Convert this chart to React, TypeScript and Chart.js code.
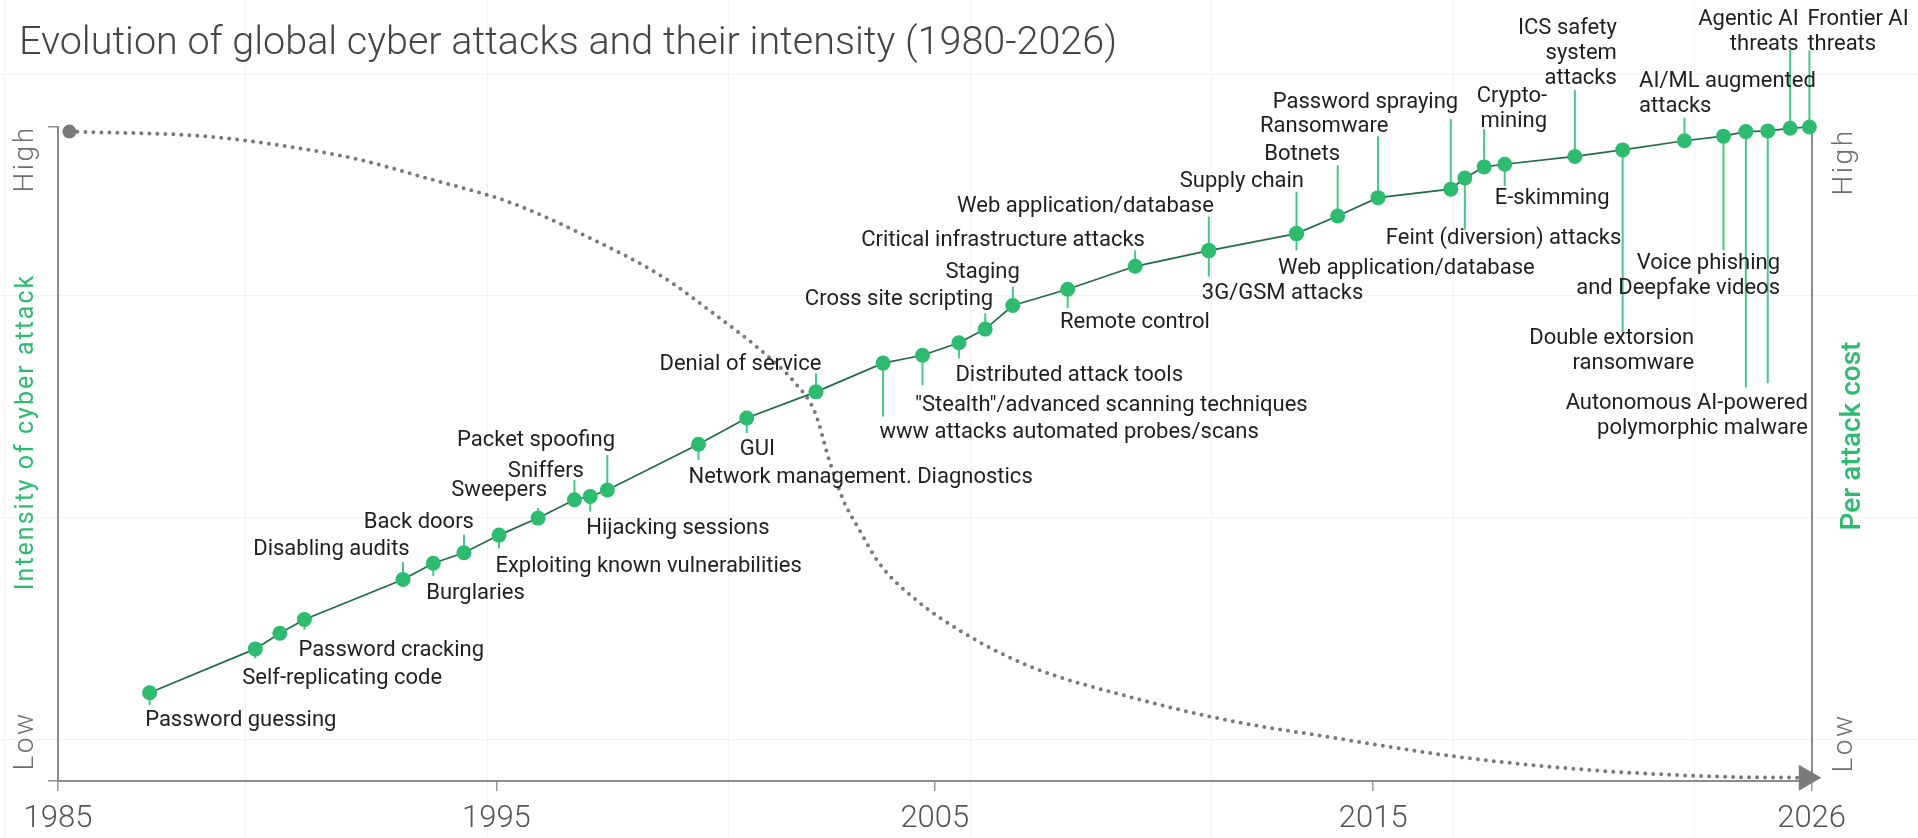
import React, { useEffect, useRef } from "react";
import { Chart, registerables } from "chart.js";

Chart.register(...registerables);

const chartTitle = "Evolution of global cyber attacks and their intensity (1980-2026)";
const xTickYears = [1985, 1995, 2005, 2015, 2025];
const xTickLabels = ["1985", "1995", "2005", "2015", "2026"];
const leftAxisTitle = "Intensity of cyber attack";
const rightAxisTitle = "Per attack cost";
const levelLabels = ["High", "Low"];

// Attack milestones (one entry per annotation; shared dots repeat their position)
const eventLabels = [
  "Password guessing",
  "Self-replicating code",
  "",
  "Password cracking",
  "Disabling audits",
  "Burglaries",
  "Back doors",
  "Exploiting known vulnerabilities",
  "Sweepers",
  "Sniffers",
  "Hijacking sessions",
  "Packet spoofing",
  "Network management. Diagnostics",
  "GUI",
  "Denial of service",
  "www attacks automated probes/scans",
  "\"Stealth\"/advanced scanning techniques",
  "Distributed attack tools",
  "Cross site scripting",
  "Staging",
  "Remote control",
  "Critical infrastructure attacks",
  "Web application/database",
  "3G/GSM attacks",
  "Supply chain",
  "Web application/database",
  "Botnets",
  "Ransomware",
  "Password spraying",
  "Feint (diversion) attacks",
  "Crypto-\nmining",
  "E-skimming",
  "ICS safety\nsystem\nattacks",
  "Double extorsion\nransomware",
  "AI/ML augmented\nattacks",
  "Voice phishing\nand Deepfake videos",
  "Autonomous AI-powered\npolymorphic malware",
  "",
  "Agentic AI\nthreats",
  "Frontier AI\nthreats",
];

const eventYears = [
  1987.09, 1989.5, 1990.06, 1990.62, 1992.87, 1993.56, 1994.26, 1995.06, 1995.95, 1996.78,
  1997.14, 1997.53, 1999.61, 2000.71, 2002.29, 2003.82, 2004.72, 2005.55, 2006.15, 2006.78,
  2008.03, 2009.57, 2011.25, 2011.25, 2013.25, 2013.25, 2014.19, 2015.11, 2016.77, 2017.09,
  2017.53, 2018.0, 2019.6, 2020.69, 2022.1, 2022.99, 2023.5, 2024.0, 2024.51, 2024.95,
];

const eventIntensity = [
  13.5, 20.2, 22.6, 24.7, 30.8, 33.3, 34.9, 37.6, 40.2, 43.0,
  43.5, 44.5, 51.5, 55.5, 59.5, 63.9, 65.1, 67.0, 69.1, 72.7,
  75.2, 78.7, 81.1, 81.1, 83.7, 83.7, 86.4, 89.2, 90.5, 92.2,
  93.9, 94.3, 95.5, 96.5, 97.9, 98.6, 99.3, 99.4, 99.8, 100,
];

// Falling cost of a single attack
const costYears = [
  1985.26, 1988.32, 1990.07, 1991.81, 1993.56, 1995.3, 1997.05, 1998.79, 1999.95, 2001.11,
  2001.82, 2002.27, 2002.59, 2002.91, 2003.28, 2003.73, 2004.48, 2005.67, 2007.18, 2009.42,
  2011.67, 2013.92, 2016.92, 2019.9, 2022.91, 2024.88,
];
const costLevel = [
  99.3, 98.6, 97.2, 95.1, 91.9, 88.5, 83.3, 77.1, 71.5, 65.4,
  60.8, 56.3, 49.1, 43.0, 38.4, 33.3, 28.2, 22.6, 17.5, 12.9,
  9.3, 6.8, 3.7, 1.7, 0.66, 0.5,
];

// Callout placement: [stem length px (+ down), first text line offset px, x offset px, alignment]
const labelPlacement: [number, number, number, CanvasTextAlign][] = [
  [12.3, 25.3, -4.5, "left"],
  [9.3, 27.7, -13, "left"],
  [0, 0, 0, "left"],
  [10.3, 28.6, -6, "left"],
  [-17.6, -32.6, 6.7, "right"],
  [12.7, 28.4, -7, "left"],
  [-18, -32.3, 10, "right"],
  [13.3, 29, -3.6, "left"],
  [-10, -30, 9, "right"],
  [-20, -30.7, 9.5, "right"],
  [15, 29.3, -4, "left"],
  [-35, -51.7, 7.7, "right"],
  [15.7, 30.7, -10, "left"],
  [15, 28.7, -7, "left"],
  [-18.4, -29.4, 5.4, "right"],
  [53.4, 66.7, -3.6, "left"],
  [30, 47.7, -7.6, "left"],
  [15.6, 30.6, -3.5, "left"],
  [-15.7, -32.3, 8, "right"],
  [-19, -35.7, 7, "right"],
  [19, 31.4, -7.6, "left"],
  [-16, -27.7, 9.8, "right"],
  [-34, -46, 5, "right"],
  [26, 40.7, -7, "left"],
  [-41.6, -54, 7.5, "right"],
  [16.7, 32.7, -18.5, "left"],
  [-50.7, -64, 2.4, "right"],
  [-61.3, -73.3, 10.3, "right"],
  [-70.2, -88.5, 7.4, "right"],
  [51.7, 58.4, -79, "left"],
  [-37.7, -72.7, 63, "right"],
  [21.5, 31.5, -10, "left"],
  [-66.3, -130.3, 42, "right"],
  [182.5, 186.2, 71.6, "right"],
  [-23, -62, -45.4, "left"],
  [114.2, 125.2, 56.5, "right"],
  [256, 269.7, 62, "right"],
  [252.3, 0, 0, "left"],
  [-78.3, -111.6, 8.5, "right"],
  [-76.8, -110.1, -2, "left"],
];

const FONT = "Roboto, 'Noto Sans', Arial, sans-serif";
const GREEN = "#2dbb6f";
const STEM_GREEN = "#45c786";
const LINE_GREEN = "#1f6d47";
const GREY = "#7a7a7a";
const AXIS_GREY = "#8c8c8c";

const W = 1918;
const H = 838;
const AREA = { left: 58, right: 1811.6, top: 127, bottom: 781 };

function rotatedText(
  ctx: CanvasRenderingContext2D,
  text: string,
  x: number,
  y: number,
  font: string,
  color: string,
  spacing: string
) {
  ctx.save();
  ctx.translate(x, y);
  ctx.rotate(-Math.PI / 2);
  ctx.font = font;
  ctx.fillStyle = color;
  ctx.textAlign = "center";
  ctx.textBaseline = "alphabetic";
  (ctx as any).letterSpacing = spacing;
  ctx.fillText(text, 0, 0);
  ctx.restore();
}

const decorPlugin = {
  id: "timelineDecor",
  beforeDraw(chart: any) {
    const { ctx, width, height } = chart;
    ctx.save();
    ctx.fillStyle = "#ffffff";
    ctx.fillRect(0, 0, width, height);
    ctx.strokeStyle = "#f3f3f3";
    ctx.lineWidth = 1;
    ctx.beginPath();
    for (let x = 3.5; x < width; x += 241.5) {
      const px = Math.round(x) + 0.5;
      ctx.moveTo(px, 0);
      ctx.lineTo(px, height);
    }
    for (let y = 73.5; y < height; y += 221.7) {
      const py = Math.round(y) + 0.5;
      ctx.moveTo(0, py);
      ctx.lineTo(width, py);
    }
    ctx.stroke();
    ctx.restore();
  },
  beforeDatasetsDraw(chart: any) {
    const { ctx } = chart;
    const meta = chart.getDatasetMeta(0);
    ctx.save();
    ctx.strokeStyle = STEM_GREEN;
    ctx.lineWidth = 2;
    meta.data.forEach((pt: any, i: number) => {
      const stem = labelPlacement[i][0];
      if (!stem) return;
      ctx.beginPath();
      ctx.moveTo(pt.x, pt.y);
      ctx.lineTo(pt.x, pt.y + stem);
      ctx.stroke();
    });
    ctx.restore();
  },
  afterDatasetsDraw(chart: any) {
    const { ctx } = chart;
    const meta = chart.getDatasetMeta(0);
    ctx.save();
    ctx.font = `400 22px ${FONT}`;
    ctx.fillStyle = "#1f1f1f";
    ctx.textBaseline = "alphabetic";
    meta.data.forEach((pt: any, i: number) => {
      const text = eventLabels[i];
      if (!text) return;
      const [, dy, dx, align] = labelPlacement[i];
      ctx.textAlign = align;
      text.split("\n").forEach((line, j) => {
        ctx.fillText(line, pt.x + dx, pt.y + dy + j * 25 + 7.8);
      });
    });
    ctx.restore();
  },
  afterDraw(chart: any) {
    const { ctx } = chart;
    const yHigh = chart.scales.y.getPixelForValue(100) + 32;
    const yLow = chart.scales.y.getPixelForValue(0) - 40;
    const yMid = (chart.chartArea.top + chart.chartArea.bottom) / 2;
    const light = `300 28px ${FONT}`;
    rotatedText(ctx, levelLabels[0], 33, yHigh, light, "#6e6e6e", "2.5px");
    rotatedText(ctx, levelLabels[1], 33, yLow, light, "#6e6e6e", "2.5px");
    rotatedText(ctx, leftAxisTitle, 33, yMid - 22, `400 25px ${FONT}`, GREEN, "2px");
    rotatedText(ctx, levelLabels[0], 1852, yHigh + 3, light, "#6e6e6e", "2.5px");
    rotatedText(ctx, levelLabels[1], 1852, yLow + 2, light, "#6e6e6e", "2.5px");
    rotatedText(ctx, rightAxisTitle, 1860, yMid - 18, `500 28px ${FONT}`, GREEN, "0px");
  },
};

export default function App() {
  const canvasRef = useRef<HTMLCanvasElement | null>(null);

  useEffect(() => {
    const canvas = canvasRef.current;
    if (!canvas) return;

    const last = costYears.length - 1;
    const costStyles = costYears.map((_, i) => (i === last ? "triangle" : "circle"));
    const costRadius = costYears.map((_, i) => (i === 0 ? 7 : i === last ? 15 : 0));
    const costRotation = costYears.map((_, i) => (i === last ? 90 : 0));

    const chart = new Chart(canvas, {
      type: "line",
      data: {
        datasets: [
          {
            label: "Intensity of cyber attack",
            data: eventYears.map((x, i) => ({ x, y: eventIntensity[i] })),
            borderColor: LINE_GREEN,
            borderWidth: 1.7,
            pointRadius: 7.5,
            pointBackgroundColor: GREEN,
            pointBorderWidth: 0,
            tension: 0,
            yAxisID: "y",
            clip: false,
          },
          {
            label: "Per attack cost",
            data: costYears.map((x, i) => ({ x, y: costLevel[i] })),
            borderColor: GREY,
            borderWidth: 4,
            borderDash: [0, 8],
            borderCapStyle: "round",
            cubicInterpolationMode: "monotone",
            pointStyle: costStyles as any,
            pointRadius: costRadius,
            pointRotation: costRotation,
            pointBackgroundColor: GREY,
            pointBorderWidth: 0,
            yAxisID: "y2",
            clip: false,
          },
        ],
      },
      options: {
        responsive: false,
        devicePixelRatio: 1,
        animation: false,
        events: [],
        layout: { padding: { left: 19, right: 0, top: 0, bottom: 0 } },
        plugins: {
          legend: { display: false },
          tooltip: { enabled: false },
          title: {
            display: true,
            text: chartTitle,
            align: "start",
            color: "#454545",
            font: { family: FONT, size: 39.5, weight: "300", lineHeight: 1.2 },
            padding: { top: 20, bottom: AREA.top - 20 - 39.5 * 1.2 },
          },
        },
        scales: {
          x: {
            type: "linear",
            min: 1985,
            max: 2025,
            afterBuildTicks: (axis: any) => {
              axis.ticks = xTickYears.map((v) => ({ value: v }));
            },
            afterFit: (axis: any) => {
              axis.height = H - AREA.bottom;
            },
            ticks: {
              autoSkip: false,
              maxRotation: 0,
              padding: 10,
              color: "#555555",
              font: { family: FONT, size: 31, weight: "300" },
              callback: (_v: any, i: number) => xTickLabels[i],
            },
            grid: {
              drawOnChartArea: false,
              drawTicks: true,
              tickLength: 10,
              color: "#999999",
              lineWidth: 1.5,
            },
            border: { display: true, color: AXIS_GREY, width: 2 },
          },
          y: {
            type: "linear",
            position: "left",
            min: 0,
            max: 100,
            afterBuildTicks: (axis: any) => {
              axis.ticks = [{ value: 0 }, { value: 100 }];
            },
            afterFit: (axis: any) => {
              axis.width = AREA.left - 19;
            },
            ticks: { display: false },
            grid: {
              drawOnChartArea: false,
              drawTicks: true,
              tickLength: 10,
              color: AXIS_GREY,
              lineWidth: 1.5,
            },
            border: { display: true, color: AXIS_GREY, width: 2 },
          },
          y2: {
            type: "linear",
            position: "right",
            min: 0,
            max: 100,
            afterFit: (axis: any) => {
              axis.width = W - AREA.right;
            },
            ticks: { display: false },
            grid: { display: false, drawTicks: false },
            border: { display: true, color: AXIS_GREY, width: 2 },
          },
        },
      },
      plugins: [decorPlugin],
    } as any);

    return () => chart.destroy();
  }, []);

  return (
    <div
      style={{
        position: "fixed",
        left: 0,
        top: 0,
        width: W,
        height: H,
        background: "#ffffff",
        overflow: "hidden",
      }}
    >
      <canvas ref={canvasRef} width={W} height={H} style={{ display: "block" }} />
    </div>
  );
}
